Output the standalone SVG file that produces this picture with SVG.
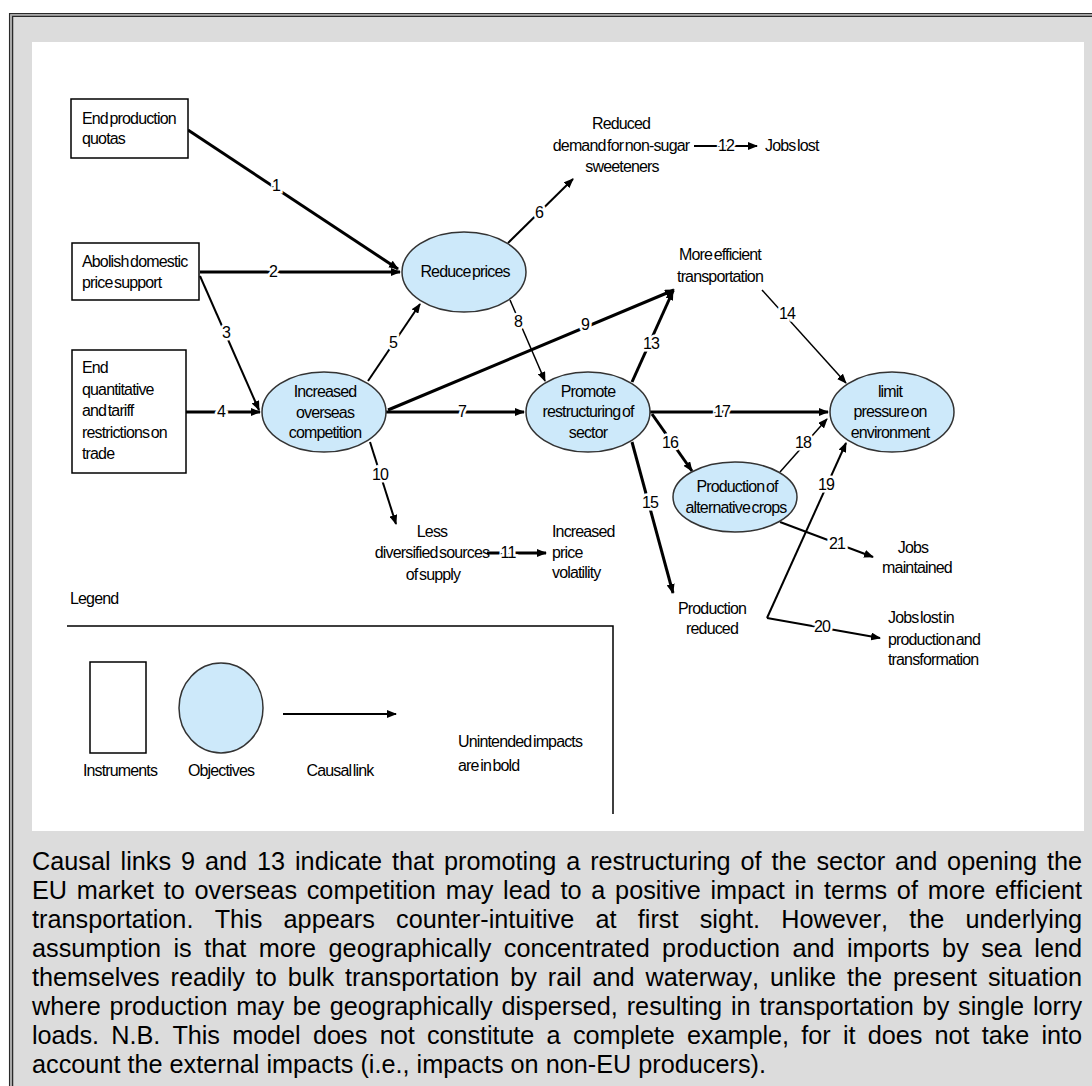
<svg xmlns="http://www.w3.org/2000/svg" width="1092" height="1086" viewBox="0 0 1092 1086">
<defs>
<style>
.t{font-family:"Liberation Sans",Arial,sans-serif;font-size:16px;letter-spacing:-0.85px;word-spacing:-2px;fill:#000}
.c{text-anchor:middle}
.lb{font-family:"Liberation Sans",Arial,sans-serif;font-size:16px;text-anchor:middle;fill:#000;paint-order:stroke;stroke:#fff;stroke-width:5px;letter-spacing:-0.8px}
.box{fill:#fff;stroke:#000;stroke-width:1.5}
.ell{fill:#CDE9FA;stroke:#333;stroke-width:1.5}
.k3{stroke:#000;stroke-width:3;fill:none}
.k2{stroke:#000;stroke-width:2;fill:none}
.k1{stroke:#000;stroke-width:1.5;fill:none}
.p{font-family:"Liberation Sans",Arial,sans-serif;font-size:25.25px;fill:#000;font-kerning:none}
</style>
<marker id="ah" viewBox="0 0 10 8" refX="9" refY="4" markerWidth="10" markerHeight="8" markerUnits="userSpaceOnUse" orient="auto"><path d="M0,0 L10,4 L0,8 z" fill="#000"/></marker>
</defs>

<g id="frame">
<rect x="9" y="13" width="1083" height="1073" fill="#DCDCDC"/>
<path d="M9.6,1086 V13.6 H1092" fill="none" stroke="#2a2a2a" stroke-width="1.3"/>
<path d="M11.1,1086 V15.1 H1092" fill="none" stroke="#a8a8a8" stroke-width="1.5"/>
<path d="M12.6,1086 V16.4 H1092" fill="none" stroke="#2a2a2a" stroke-width="1.3"/>
<rect x="32" y="42" width="1052" height="789" fill="#FFFFFF"/>
</g>

<g id="connectors">
<path class="k3" d="M188,130 L398,269" marker-end="url(#ah)"/>
<path class="k3" d="M200,272 L400,272" marker-end="url(#ah)"/>
<path class="k2" d="M200,276 L259,410" marker-end="url(#ah)"/>
<path class="k3" d="M186,412 L260,412" marker-end="url(#ah)"/>
<path class="k2" d="M368,381 L420,304" marker-end="url(#ah)"/>
<path class="k2" d="M508,243 L573,179" marker-end="url(#ah)"/>
<path class="k3" d="M386,412 L524,412" marker-end="url(#ah)"/>
<path class="k1" d="M510,300 L545,381" marker-end="url(#ah)"/>
<path class="k3" d="M388,410 L674,290" marker-end="url(#ah)"/>
<path class="k2" d="M370,442 L396,524" marker-end="url(#ah)"/>
<path class="k3" d="M487,553 L546,553" marker-end="url(#ah)"/>
<path class="k2" d="M694,146 L757,146" marker-end="url(#ah)"/>
<path class="k3" d="M632,382 L673,291" marker-end="url(#ah)"/>
<path class="k1" d="M762,290 L846,383" marker-end="url(#ah)"/>
<path class="k3" d="M632,442 L673,593" marker-end="url(#ah)"/>
<path class="k3" d="M652,414 L692,471" marker-end="url(#ah)"/>
<path class="k3" d="M649,412 L828,412" marker-end="url(#ah)"/>
<path class="k1" d="M780,472 L827,419" marker-end="url(#ah)"/>
<path class="k2" d="M767,618 L846,443" marker-end="url(#ah)"/>
<path class="k2" d="M767,618 L880,638" marker-end="url(#ah)"/>
<path class="k2" d="M780,522 L873,557" marker-end="url(#ah)"/>
<text class="lb" x="276" y="191">1</text>
<text class="lb" x="273" y="277">2</text>
<text class="lb" x="226" y="338">3</text>
<text class="lb" x="221" y="417">4</text>
<text class="lb" x="393" y="348">5</text>
<text class="lb" x="539" y="218">6</text>
<text class="lb" x="462" y="417">7</text>
<text class="lb" x="518" y="327">8</text>
<text class="lb" x="585" y="330">9</text>
<text class="lb" x="380" y="480">10</text>
<text class="lb" x="508" y="558">11</text>
<text class="lb" x="726" y="151">12</text>
<text class="lb" x="651" y="349">13</text>
<text class="lb" x="787" y="319">14</text>
<text class="lb" x="650" y="508">15</text>
<text class="lb" x="670" y="448">16</text>
<text class="lb" x="722" y="417">17</text>
<text class="lb" x="803" y="448">18</text>
<text class="lb" x="826" y="490">19</text>
<text class="lb" x="822" y="632">20</text>
<text class="lb" x="837" y="549">21</text>
</g>

<g id="n-quotas">
<rect class="box" x="71" y="99" width="117" height="59"/>
<text class="t" x="82" y="124">End production</text>
<text class="t" x="82" y="144">quotas</text>
</g>
<g id="n-abolish">
<rect class="box" x="72" y="243" width="127" height="57"/>
<text class="t" x="82" y="267">Abolish domestic</text>
<text class="t" x="82" y="288">price support</text>
</g>
<g id="n-trade">
<rect class="box" x="72" y="350" width="114" height="123"/>
<text class="t" x="82" y="373">End</text>
<text class="t" x="82" y="395">quantitative</text>
<text class="t" x="82" y="416">and tariff</text>
<text class="t" x="82" y="438">restrictions on</text>
<text class="t" x="82" y="459">trade</text>
</g>
<g id="n-reduce-prices">
<ellipse class="ell" cx="464" cy="272" rx="62" ry="40"/>
<text class="t c" x="465" y="277">Reduce prices</text>
</g>
<g id="n-competition">
<ellipse class="ell" cx="324" cy="412" rx="62" ry="40"/>
<text class="t c" x="325" y="397">Increased</text>
<text class="t c" x="325" y="418">overseas</text>
<text class="t c" x="325" y="438">competition</text>
</g>
<g id="n-restructuring">
<ellipse class="ell" cx="588" cy="412" rx="62" ry="40"/>
<text class="t c" x="588" y="397">Promote</text>
<text class="t c" x="588" y="417">restructuring of</text>
<text class="t c" x="588" y="438">sector</text>
</g>
<g id="n-environment">
<ellipse class="ell" cx="892" cy="412" rx="62" ry="40"/>
<text class="t c" x="890" y="397">limit</text>
<text class="t c" x="890" y="417">pressure on</text>
<text class="t c" x="890" y="438">environment</text>
</g>
<g id="n-alt-crops">
<ellipse class="ell" cx="735" cy="497" rx="62" ry="35"/>
<text class="t c" x="737" y="492">Production of</text>
<text class="t c" x="736" y="513">alternative crops</text>
</g>
<g id="n-sweeteners">
<text class="t c" x="621" y="129">Reduced</text>
<text class="t c" x="621" y="151">demand for non-sugar</text>
<text class="t c" x="622" y="172">sweeteners</text>
</g>
<g id="n-jobs-lost">
<text class="t" x="765" y="151">Jobs lost</text>
</g>
<g id="n-transport">
<text class="t c" x="720" y="260">More efficient</text>
<text class="t c" x="720" y="282">transportation</text>
</g>
<g id="n-supply">
<text class="t c" x="432" y="537">Less</text>
<text class="t c" x="432" y="558">diversified sources</text>
<text class="t c" x="433" y="580">of supply</text>
</g>
<g id="n-volatility">
<text class="t" x="552" y="537">Increased</text>
<text class="t" x="552" y="558">price</text>
<text class="t" x="552" y="578">volatility</text>
</g>
<g id="n-prod-reduced">
<text class="t c" x="712" y="614">Production</text>
<text class="t c" x="712" y="634">reduced</text>
</g>
<g id="n-jobs-maintained">
<text class="t c" x="913" y="553">Jobs</text>
<text class="t c" x="917" y="573">maintained</text>
</g>
<g id="n-jobs-lost-prod">
<text class="t" x="888" y="623">Jobs lost in</text>
<text class="t" x="888" y="645">production and</text>
<text class="t" x="888" y="665">transformation</text>
</g>

<g id="legend">
<text class="t" x="70" y="604">Legend</text>
<path d="M67,626 H613 V814" fill="none" stroke="#000" stroke-width="1.5"/>
<rect class="box" x="90" y="662" width="56" height="91"/>
<ellipse class="ell" cx="221" cy="708" rx="42" ry="45"/>
<path class="k2" d="M283,714 L396,714" marker-end="url(#ah)"/>
<text class="t c" x="120" y="776">Instruments</text>
<text class="t c" x="221" y="776">Objectives</text>
<text class="t c" x="340" y="776">Causal link</text>
<text class="t" x="458" y="747">Unintended impacts</text>
<text class="t" x="458" y="771">are in bold</text>
</g>

<g id="caption">
<text class="p" x="32" y="870" word-spacing="2.9" textLength="1050" lengthAdjust="spacing">Causal links 9 and 13 indicate that promoting a restructuring of the sector and opening the</text>
<text class="p" x="32" y="899" word-spacing="2.7" textLength="1050" lengthAdjust="spacing">EU market to overseas competition may lead to a positive impact in terms of more efficient</text>
<text class="p" x="32" y="928" word-spacing="14.2" textLength="1050" lengthAdjust="spacing">transportation. This appears counter-intuitive at first sight. However, the underlying</text>
<text class="p" x="32" y="957" word-spacing="5.4" textLength="1050" lengthAdjust="spacing">assumption is that more geographically concentrated production and imports by sea lend</text>
<text class="p" x="32" y="986" word-spacing="3.9" textLength="1050" lengthAdjust="spacing">themselves readily to bulk transportation by rail and waterway, unlike the present situation</text>
<text class="p" x="32" y="1015" word-spacing="1.8" textLength="1050" lengthAdjust="spacing">where production may be geographically dispersed, resulting in transportation by single lorry</text>
<text class="p" x="32" y="1044" word-spacing="5.4" textLength="1050" lengthAdjust="spacing">loads. N.B. This model does not constitute a complete example, for it does not take into</text>
<text class="p" x="32" y="1073">account the external impacts (i.e., impacts on non-EU producers).</text>
</g>
</svg>
